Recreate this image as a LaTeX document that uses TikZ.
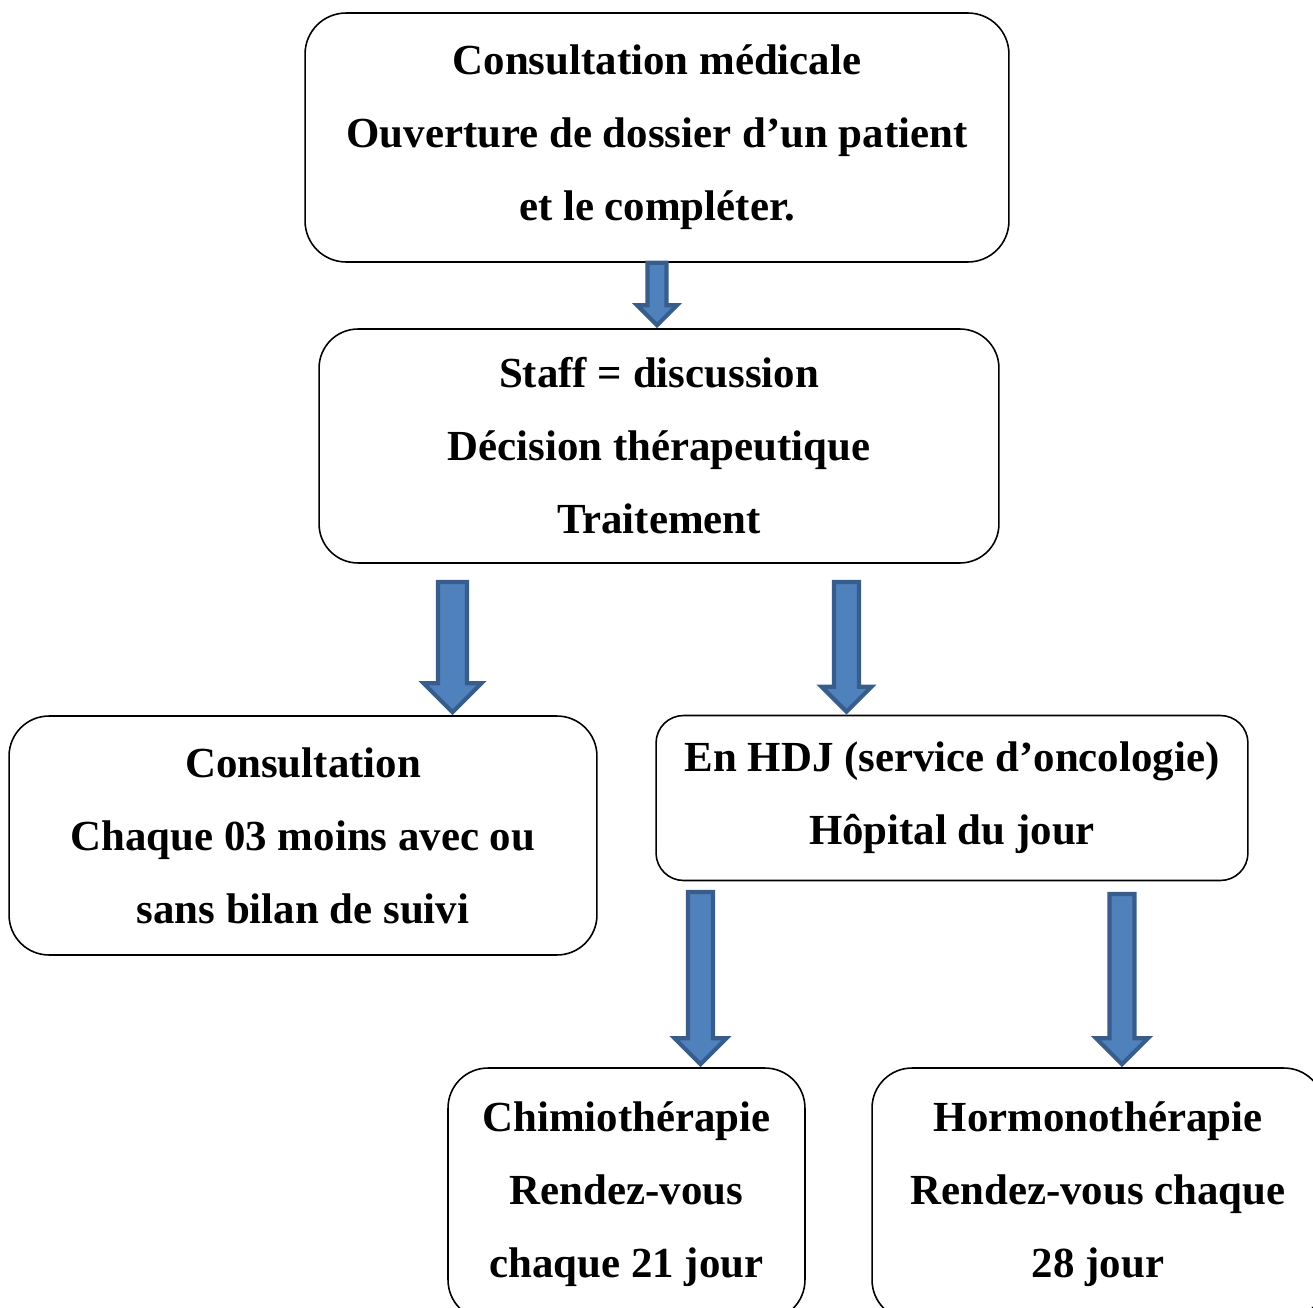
\documentclass[tikz,border=0pt]{standalone}
\usepackage{fontspec}
\setmainfont{Liberation Serif}
\usepackage{xcolor}
\usetikzlibrary{calc}
\definecolor{arrowfill}{HTML}{4F81BD}
\definecolor{arrowline}{HTML}{385D8A}

\begin{document}
\begin{tikzpicture}[
    x=0.02cm, y=-0.02cm,
    bloc/.style={rectangle, draw, line width=0.9pt, inner sep=0pt, align=center, font={\bfseries\fontsize{24.4}{41.5}\selectfont}},
    fleche/.style 2 args={draw=arrowline, fill=arrowfill, line width=2.4pt, to path={
        let \p1=(\tikztostart), \p2=(\tikztotarget) in
        (\x1-#1*0.02cm,\y1) -- (\x1+#1*0.02cm,\y1)
        -- (\x1+#1*0.02cm,\y2+#2*0.02cm+3*0.02cm) -- (\x1+#2*0.02cm,\y2+#2*0.02cm+3*0.02cm)
        -- (\x1,\y2+3*0.02cm)
        -- (\x1-#2*0.02cm,\y2+#2*0.02cm+3*0.02cm) -- (\x1-#1*0.02cm,\y2+#2*0.02cm+3*0.02cm) -- cycle}}
  ]

    % Page
    \useasboundingbox (0,0) rectangle (1313,1308);
    \clip (0,0) rectangle (1313,1308);

    % Boxes
    \node[bloc, minimum width=14.08cm, minimum height=4.98cm, rounded corners=0.82cm] (consult) at (657,137.5) {Consultation médicale\\Ouverture de dossier d’un patient\\et le compléter.};
    \node[bloc, minimum width=13.6cm, minimum height=4.68cm, rounded corners=0.78cm] (staff) at (659,446) {Staff = discussion\\Décision thérapeutique\\Traitement};
    \node[bloc, minimum width=11.76cm, minimum height=4.78cm, rounded corners=0.8cm] (suivi) at (303,835.5) {Consultation\\Chaque 03 moins avec ou\\sans bilan de suivi};
    \node[bloc, minimum width=11.84cm, minimum height=3.3cm, rounded corners=0.55cm] (hdj) at (952,798) {En HDJ (service d’oncologie)\\Hôpital du jour};
    \node[bloc, minimum width=7.14cm, minimum height=5.04cm, rounded corners=0.8cm] (chimio) at (626.5,1194) {Chimiothérapie\\Rendez-vous\\chaque 21 jour};
    \node[bloc, minimum width=9.04cm, minimum height=5.04cm, rounded corners=0.8cm] (hormono) at (1098,1194) {Hormonothérapie\\Rendez-vous chaque\\28 jour};

    % Arrow starts
    \coordinate (a2) at (452.5,582);
    \coordinate (a3) at (846.5,582);
    \coordinate (a4) at (700.5,892);
    \coordinate (a5) at (1122,894);

    % Flows
    \draw[fleche={9.5}{20}] (consult.south) to (staff.north);
    \draw[fleche={14.4}{29}] (a2) to (suivi.north);
    \draw[fleche={12.4}{25}] (a3) to (hdj.north);
    \draw[fleche={12.4}{26}] (a4) to (chimio.north);
    \draw[fleche={12.4}{26}] (a5) to (hormono.north);

\end{tikzpicture}
\end{document}
